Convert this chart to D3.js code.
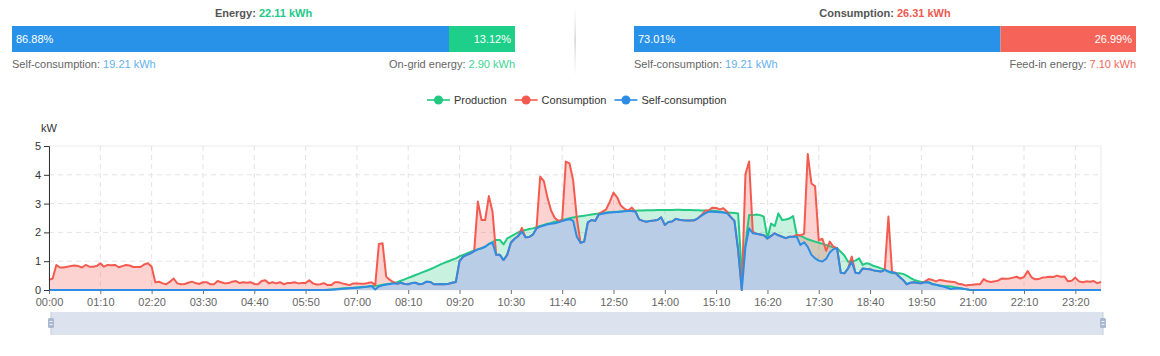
<!DOCTYPE html>
<html><head><meta charset="utf-8">
<script src="https://cdn.jsdelivr.net/npm/d3@7"></script>
<style>
body{margin:0;background:#fff;}
svg{display:block;font-family:"Liberation Sans",Arial,Helvetica,sans-serif;}
</style>
</head><body>
<svg id="chart" width="1160" height="356"></svg>
<script>
// ---------------- DATA ----------------
const panelTitles = ["Energy", "Consumption"];
const panelTotals = [22.11, 26.31];
const energyLabels = ["Self-consumption", "On-grid energy"];
const energyKwh = [19.21, 2.90];
const energyPct = [86.88, 13.12];
const consLabels = ["Self-consumption", "Feed-in energy"];
const consKwh = [19.21, 7.10];
const consPct = [73.01, 26.99];

const seriesNames = ["Production", "Consumption", "Self-consumption"];
const yTicks = [0, 1, 2, 3, 4, 5];
const xTickLabels = ["00:00","01:10","02:20","03:30","04:40","05:50","07:00","08:10","09:20","10:30","11:40",
  "12:50","14:00","15:10","16:20","17:30","18:40","19:50","21:00","22:10","23:20"];

// 5-minute categories 00:00 .. 23:55
const times = d3.range(288).map(i => String(Math.floor(i / 12)).padStart(2, "0") + ":" + String((i % 12) * 5).padStart(2, "0"));

const production = [
0,0,0,0,0,0,0,0,0,0,0,0,
0,0,0,0,0,0,0,0,0,0,0,0,
0,0,0,0,0,0,0,0,0,0,0,0,
0,0,0,0,0,0,0,0,0,0,0,0,
0,0,0,0,0,0,0,0,0,0,0,0,
0,0,0,0,0,0,0,0,0,0,0,0,
0,0,0,0,0.01,0.02,0.03,0.04,0.05,0.06,0.07,0.08,
0.09,0.10,0.11,0.12,0.14,0.15,0.16,0.18,0.20,0.22,0.24,0.27,
0.32,0.37,0.42,0.47,0.52,0.57,0.62,0.67,0.72,0.78,0.84,0.90,
0.95,1.00,1.05,1.10,1.17,1.22,1.27,1.32,1.37,1.41,1.45,1.50,
1.60,1.66,1.74,1.74,1.58,1.79,1.86,1.93,2.00,2.06,2.08,2.12,
2.14,2.18,2.22,2.26,2.30,2.33,2.37,2.40,2.43,2.46,2.49,2.52,
2.54,2.56,2.58,2.60,2.62,2.64,2.66,2.68,2.69,2.70,2.71,2.72,
2.73,2.74,2.74,2.75,2.75,2.76,2.76,2.77,2.77,2.77,2.78,2.78,
2.78,2.78,2.78,2.79,2.79,2.78,2.78,2.78,2.77,2.77,2.76,2.76,
2.75,2.75,2.74,2.73,2.70,2.69,2.68,2.67,2.66,0.58,1.60,2.60,
2.60,2.62,2.60,2.55,1.79,2.31,2.22,2.66,2.43,2.45,2.48,2.57,
1.91,1.88,1.82,1.76,1.72,1.68,1.64,1.60,1.56,1.52,1.48,1.45,
1.33,1.20,0.98,1.00,1.02,1.10,0.87,0.93,0.90,0.83,0.80,0.75,
0.71,0.64,0.58,0.58,0.58,0.56,0.50,0.42,0.35,0.31,0.28,0.28,
0.27,0.22,0.18,0.16,0.14,0.13,0.12,0.10,0.08,0.05,0.03,0.01,
0,0,0,0,0,0,0,0,0,0,0,0,
0,0,0,0,0,0,0,0,0,0,0,0,
0,0,0,0,0,0,0,0,0,0,0,0
];

const consumption = [
0.35,0.40,0.87,0.78,0.78,0.81,0.83,0.85,0.83,0.78,0.87,0.81,
0.81,0.83,0.93,0.81,0.87,0.86,0.87,0.79,0.83,0.87,0.85,0.80,
0.80,0.80,0.89,0.93,0.81,0.27,0.29,0.23,0.20,0.29,0.40,0.23,
0.20,0.21,0.25,0.29,0.24,0.21,0.27,0.27,0.20,0.20,0.31,0.27,
0.23,0.24,0.29,0.31,0.24,0.27,0.25,0.27,0.21,0.20,0.31,0.34,
0.23,0.27,0.23,0.27,0.20,0.24,0.24,0.27,0.23,0.24,0.24,0.34,
0.23,0.19,0.20,0.24,0.17,0.17,0.27,0.27,0.23,0.20,0.17,0.23,
0.23,0.22,0.22,0.24,0.27,0.17,1.60,1.62,0.46,0.35,0.27,0.22,
0.25,0.21,0.20,0.24,0.25,0.20,0.22,0.29,0.28,0.20,0.20,0.21,
0.20,0.22,0.25,0.28,1.00,1.16,1.22,1.27,1.35,3.07,2.43,2.43,
3.26,2.72,1.22,1.22,1.04,1.22,1.64,1.78,1.87,2.16,1.83,1.84,
1.92,2.14,3.94,3.78,3.20,2.75,2.50,2.40,2.43,4.46,4.40,3.80,
2.50,1.64,1.68,2.35,2.43,2.40,2.64,2.72,2.80,3.07,3.38,3.22,
2.93,2.82,2.76,2.86,2.72,2.45,2.40,2.37,2.40,2.41,2.43,2.52,
2.26,2.36,2.38,2.47,2.44,2.42,2.41,2.41,2.42,2.49,2.60,2.75,
2.77,2.86,2.85,2.80,2.84,2.72,2.53,2.40,1.40,0.00,4.02,4.46,
2.03,1.95,1.93,1.90,1.79,1.88,1.97,1.90,1.85,1.80,1.85,1.85,
1.91,1.90,1.95,4.72,3.70,3.60,1.72,1.78,1.36,1.68,1.50,1.45,
0.60,0.58,0.75,1.16,0.60,0.58,0.75,0.73,0.72,0.68,0.66,0.64,
0.70,2.55,0.62,0.60,0.46,0.35,0.20,0.25,0.27,0.24,0.23,0.30,
0.38,0.35,0.30,0.35,0.33,0.30,0.29,0.28,0.22,0.20,0.16,0.17,
0.18,0.20,0.20,0.38,0.30,0.28,0.30,0.33,0.40,0.39,0.40,0.43,
0.46,0.40,0.45,0.66,0.45,0.37,0.38,0.43,0.44,0.46,0.45,0.50,
0.46,0.47,0.30,0.32,0.43,0.30,0.27,0.30,0.29,0.31,0.24,0.28
];

const selfConsumption = [
0,0,0,0,0,0,0,0,0,0,0,0,
0,0,0,0,0,0,0,0,0,0,0,0,
0,0,0,0,0,0,0,0,0,0,0,0,
0,0,0,0,0,0,0,0,0,0,0,0,
0,0,0,0,0,0,0,0,0,0,0,0,
0,0,0,0,0,0,0,0,0,0,0,0,
0,0,0,0,0,0.01,0.02,0.03,0.04,0.05,0.06,0.07,
0.08,0.09,0.10,0.12,0.14,0.02,0.12,0.16,0.19,0.21,0.23,0.22,
0.25,0.21,0.20,0.24,0.25,0.20,0.22,0.29,0.28,0.20,0.20,0.21,
0.20,0.22,0.25,0.28,1.00,1.16,1.22,1.27,1.35,1.41,1.45,1.50,
1.60,1.64,1.22,1.22,1.04,1.22,1.64,1.78,1.87,2.03,1.83,1.84,
1.92,2.14,2.20,2.24,2.28,2.30,2.32,2.35,2.39,2.43,2.46,2.40,
1.85,1.64,1.68,2.35,2.43,2.40,2.62,2.65,2.67,2.69,2.70,2.71,
2.72,2.73,2.74,2.74,2.72,2.45,2.40,2.37,2.40,2.41,2.43,2.52,
2.26,2.36,2.38,2.47,2.44,2.42,2.41,2.41,2.42,2.49,2.58,2.66,
2.72,2.72,2.71,2.70,2.69,2.66,2.53,2.40,1.40,0.00,1.50,2.14,
1.97,1.95,1.93,1.90,1.79,1.88,1.97,1.90,1.85,1.80,1.85,1.85,
1.85,1.56,1.66,1.50,1.22,1.10,1.02,0.99,1.08,1.30,1.42,1.45,
0.60,0.58,0.75,0.98,0.60,0.58,0.75,0.73,0.72,0.68,0.66,0.64,
0.70,0.64,0.62,0.58,0.46,0.35,0.20,0.25,0.27,0.24,0.23,0.27,
0.26,0.20,0.18,0.15,0.12,0.08,0.03,0.05,0.06,0.05,0.03,0.01,
0,0,0,0,0,0,0,0,0,0,0,0,
0,0,0,0,0,0,0,0,0,0,0,0,
0,0,0,0,0,0,0,0,0,0,0,0
];

// ---------------- STYLE ----------------
const C = {
  green: "#22c982", red: "#f45b50", blue: "#2d8ce3",
  barBlue: "#2892e8", barGreen: "#1ecf8a", barRed: "#f66358",
  valBlue: "#64b0f0", valGreen: "#3cd494", valRed: "#f5665c",
  titleGreen: "#1ec98a", titleRed: "#f05a4f"
};

const svg = d3.select("#chart");

// ---------------- TOP PANELS ----------------
function drawPanel(x0, x1, title, total, totalColor, pcts, kwhs, labels, barColors, valColors) {
  const g = svg.append("g");
  const sx = d3.scaleLinear().domain([0, 100]).range([x0, x1]);
  const t = g.append("text").attr("x", (x0 + x1) / 2).attr("y", 17)
    .attr("text-anchor", "middle").attr("font-size", 11).attr("font-weight", "bold");
  t.append("tspan").attr("fill", "#555").text(title + ": ");
  t.append("tspan").attr("fill", totalColor).text(d3.format(".2f")(total) + " kWh");

  let cum = 0;
  const segs = pcts.map(p => { const s = {a: cum, b: cum + p}; cum += p; return s; });
  g.selectAll("rect.seg").data(segs).join("rect")
    .attr("x", d => sx(d.a)).attr("y", 26)
    .attr("width", d => sx(d.b) - sx(d.a)).attr("height", 26)
    .attr("fill", (d, i) => barColors[i]);
  g.append("text").attr("x", sx(0) + 4).attr("y", 43).attr("font-size", 11).attr("fill", "#fff")
    .text(d3.format(".2f")(pcts[0]) + "%");
  g.append("text").attr("x", sx(100) - 4).attr("y", 43).attr("font-size", 11).attr("fill", "#fff")
    .attr("text-anchor", "end").text(d3.format(".2f")(pcts[1]) + "%");

  const l = g.append("text").attr("x", sx(0)).attr("y", 68).attr("font-size", 11);
  l.append("tspan").attr("fill", "#666").text(labels[0] + ": ");
  l.append("tspan").attr("fill", valColors[0]).text(d3.format(".2f")(kwhs[0]) + " kWh");
  const r = g.append("text").attr("x", sx(100)).attr("y", 68).attr("font-size", 11).attr("text-anchor", "end");
  r.append("tspan").attr("fill", "#666").text(labels[1] + ": ");
  r.append("tspan").attr("fill", valColors[1]).text(d3.format(".2f")(kwhs[1]) + " kWh");
}
drawPanel(12, 515, panelTitles[0], panelTotals[0], C.titleGreen, energyPct, energyKwh, energyLabels,
  [C.barBlue, C.barGreen], [C.valBlue, C.valGreen]);
drawPanel(634, 1136, panelTitles[1], panelTotals[1], C.titleRed, consPct, consKwh, consLabels,
  [C.barBlue, C.barRed], [C.valBlue, C.valRed]);

// divider
const defs = svg.append("defs");
const lg = defs.append("linearGradient").attr("id", "div").attr("x1", 0).attr("y1", 0).attr("x2", 0).attr("y2", 1);
lg.append("stop").attr("offset", "0%").attr("stop-color", "#ddd").attr("stop-opacity", 0.1);
lg.append("stop").attr("offset", "50%").attr("stop-color", "#c8c8c8").attr("stop-opacity", 1);
lg.append("stop").attr("offset", "100%").attr("stop-color", "#ddd").attr("stop-opacity", 0.1);
svg.append("rect").attr("x", 574.5).attr("y", 8).attr("width", 1.2).attr("height", 66).attr("fill", "url(#div)");

// ---------------- LEGEND ----------------
const legendColors = [C.green, C.red, C.blue];
const lgG = svg.append("g");
let lx = 427;
seriesNames.forEach((n, i) => {
  lgG.append("line").attr("x1", lx).attr("x2", lx + 23).attr("y1", 100).attr("y2", 100)
    .attr("stroke", legendColors[i]).attr("stroke-width", 2).attr("stroke-opacity", 0.8);
  lgG.append("circle").attr("cx", lx + 11.5).attr("cy", 100).attr("r", 4.5).attr("fill", legendColors[i]);
  const tx = lgG.append("text").attr("x", lx + 27).attr("y", 104).attr("font-size", 11).attr("fill", "#333").text(n);
  lx += 27 + tx.node().getComputedTextLength() + 8;
});

// ---------------- PLOT ----------------
const L = 49, R = 1101, T = 146, B = 290;
const x = d3.scalePoint().domain(times).range([L, R]).padding(0);
const y = d3.scaleLinear().domain([0, 5]).range([B, T]);

// grid
const grid = svg.append("g");
grid.append("rect").attr("x", L).attr("y", T).attr("width", R - L).attr("height", B - T)
  .attr("fill", "none").attr("stroke", "#ebebeb");
grid.selectAll("line.h").data(yTicks.filter(v => v > 0 && v < 5)).join("line")
  .attr("x1", L).attr("x2", R).attr("y1", d => y(d)).attr("y2", d => y(d))
  .attr("stroke", "#e3e3e3").attr("stroke-dasharray", "5,4");
grid.selectAll("line.v").data(xTickLabels.slice(1)).join("line")
  .attr("x1", d => x(d)).attr("x2", d => x(d)).attr("y1", T).attr("y2", B)
  .attr("stroke", "#e3e3e3").attr("stroke-dasharray", "5,4");

// areas
const area = d3.area().x((d, i) => x(times[i])).y0(y(0)).y1(d => y(d));
const line = d3.line().x((d, i) => x(times[i])).y(d => y(d));
svg.append("path").datum(production).attr("d", area).attr("fill", C.green).attr("fill-opacity", 0.25);
svg.append("path").datum(consumption).attr("d", area).attr("fill", C.red).attr("fill-opacity", 0.27);
svg.append("path").datum(selfConsumption).attr("d", area).attr("fill", "#bacde6");
svg.append("path").datum(production).attr("d", line).attr("fill", "none").attr("stroke", C.green).attr("stroke-width", 2).attr("stroke-linejoin", "round");
svg.append("path").datum(consumption).attr("d", line).attr("fill", "none").attr("stroke", C.red).attr("stroke-width", 2).attr("stroke-linejoin", "round");
svg.append("path").datum(selfConsumption).attr("d", line).attr("fill", "none").attr("stroke", C.blue).attr("stroke-width", 2).attr("stroke-linejoin", "round");

// axes
const yAxis = d3.axisLeft(y).tickValues(yTicks).tickSize(5).tickPadding(3).tickFormat(d3.format("d"));
const yg = svg.append("g").attr("transform", `translate(${L},0)`).call(yAxis);
yg.select(".domain").attr("stroke", "#333");
yg.selectAll(".tick line").attr("stroke", "#333");
yg.selectAll(".tick text").attr("font-size", 11).attr("fill", "#333").attr("font-family", null);

const xAxis = d3.axisBottom(x).tickValues(xTickLabels).tickSize(4).tickPadding(4);
const xg = svg.append("g").attr("transform", `translate(0,${B})`).call(xAxis);
xg.select(".domain").remove();
xg.selectAll(".tick line").attr("stroke", "#6e7079");
xg.selectAll(".tick text").attr("font-size", 11).attr("fill", "#666").attr("font-family", null);

svg.append("text").attr("x", L).attr("y", 132).attr("text-anchor", "middle").attr("font-size", 11)
  .attr("fill", "#333").text("kW");

// ---------------- DATA ZOOM SLIDER ----------------
const dz = svg.append("g");
const sz = d3.scaleLinear().domain([0, 100]).range([51, 1103]);
dz.append("rect").attr("x", sz(0)).attr("y", 312).attr("width", sz(100) - sz(0)).attr("height", 23).attr("fill", "#dde3ee");
[0, 100].forEach(p => {
  const hx = sz(p);
  dz.append("line").attr("x1", hx).attr("x2", hx).attr("y1", 312).attr("y2", 335).attr("stroke", "#c3ccdb").attr("stroke-width", 1);
  dz.append("rect").attr("x", hx - 3).attr("y", 318).attr("width", 6).attr("height", 10).attr("rx", 1.5).attr("fill", "#a9b8cf");
  dz.append("line").attr("x1", hx - 1.5).attr("x2", hx + 1.5).attr("y1", 321.5).attr("y2", 321.5).attr("stroke", "#fff").attr("stroke-width", 0.8);
  dz.append("line").attr("x1", hx - 1.5).attr("x2", hx + 1.5).attr("y1", 324.5).attr("y2", 324.5).attr("stroke", "#fff").attr("stroke-width", 0.8);
});
</script>
</body></html>
